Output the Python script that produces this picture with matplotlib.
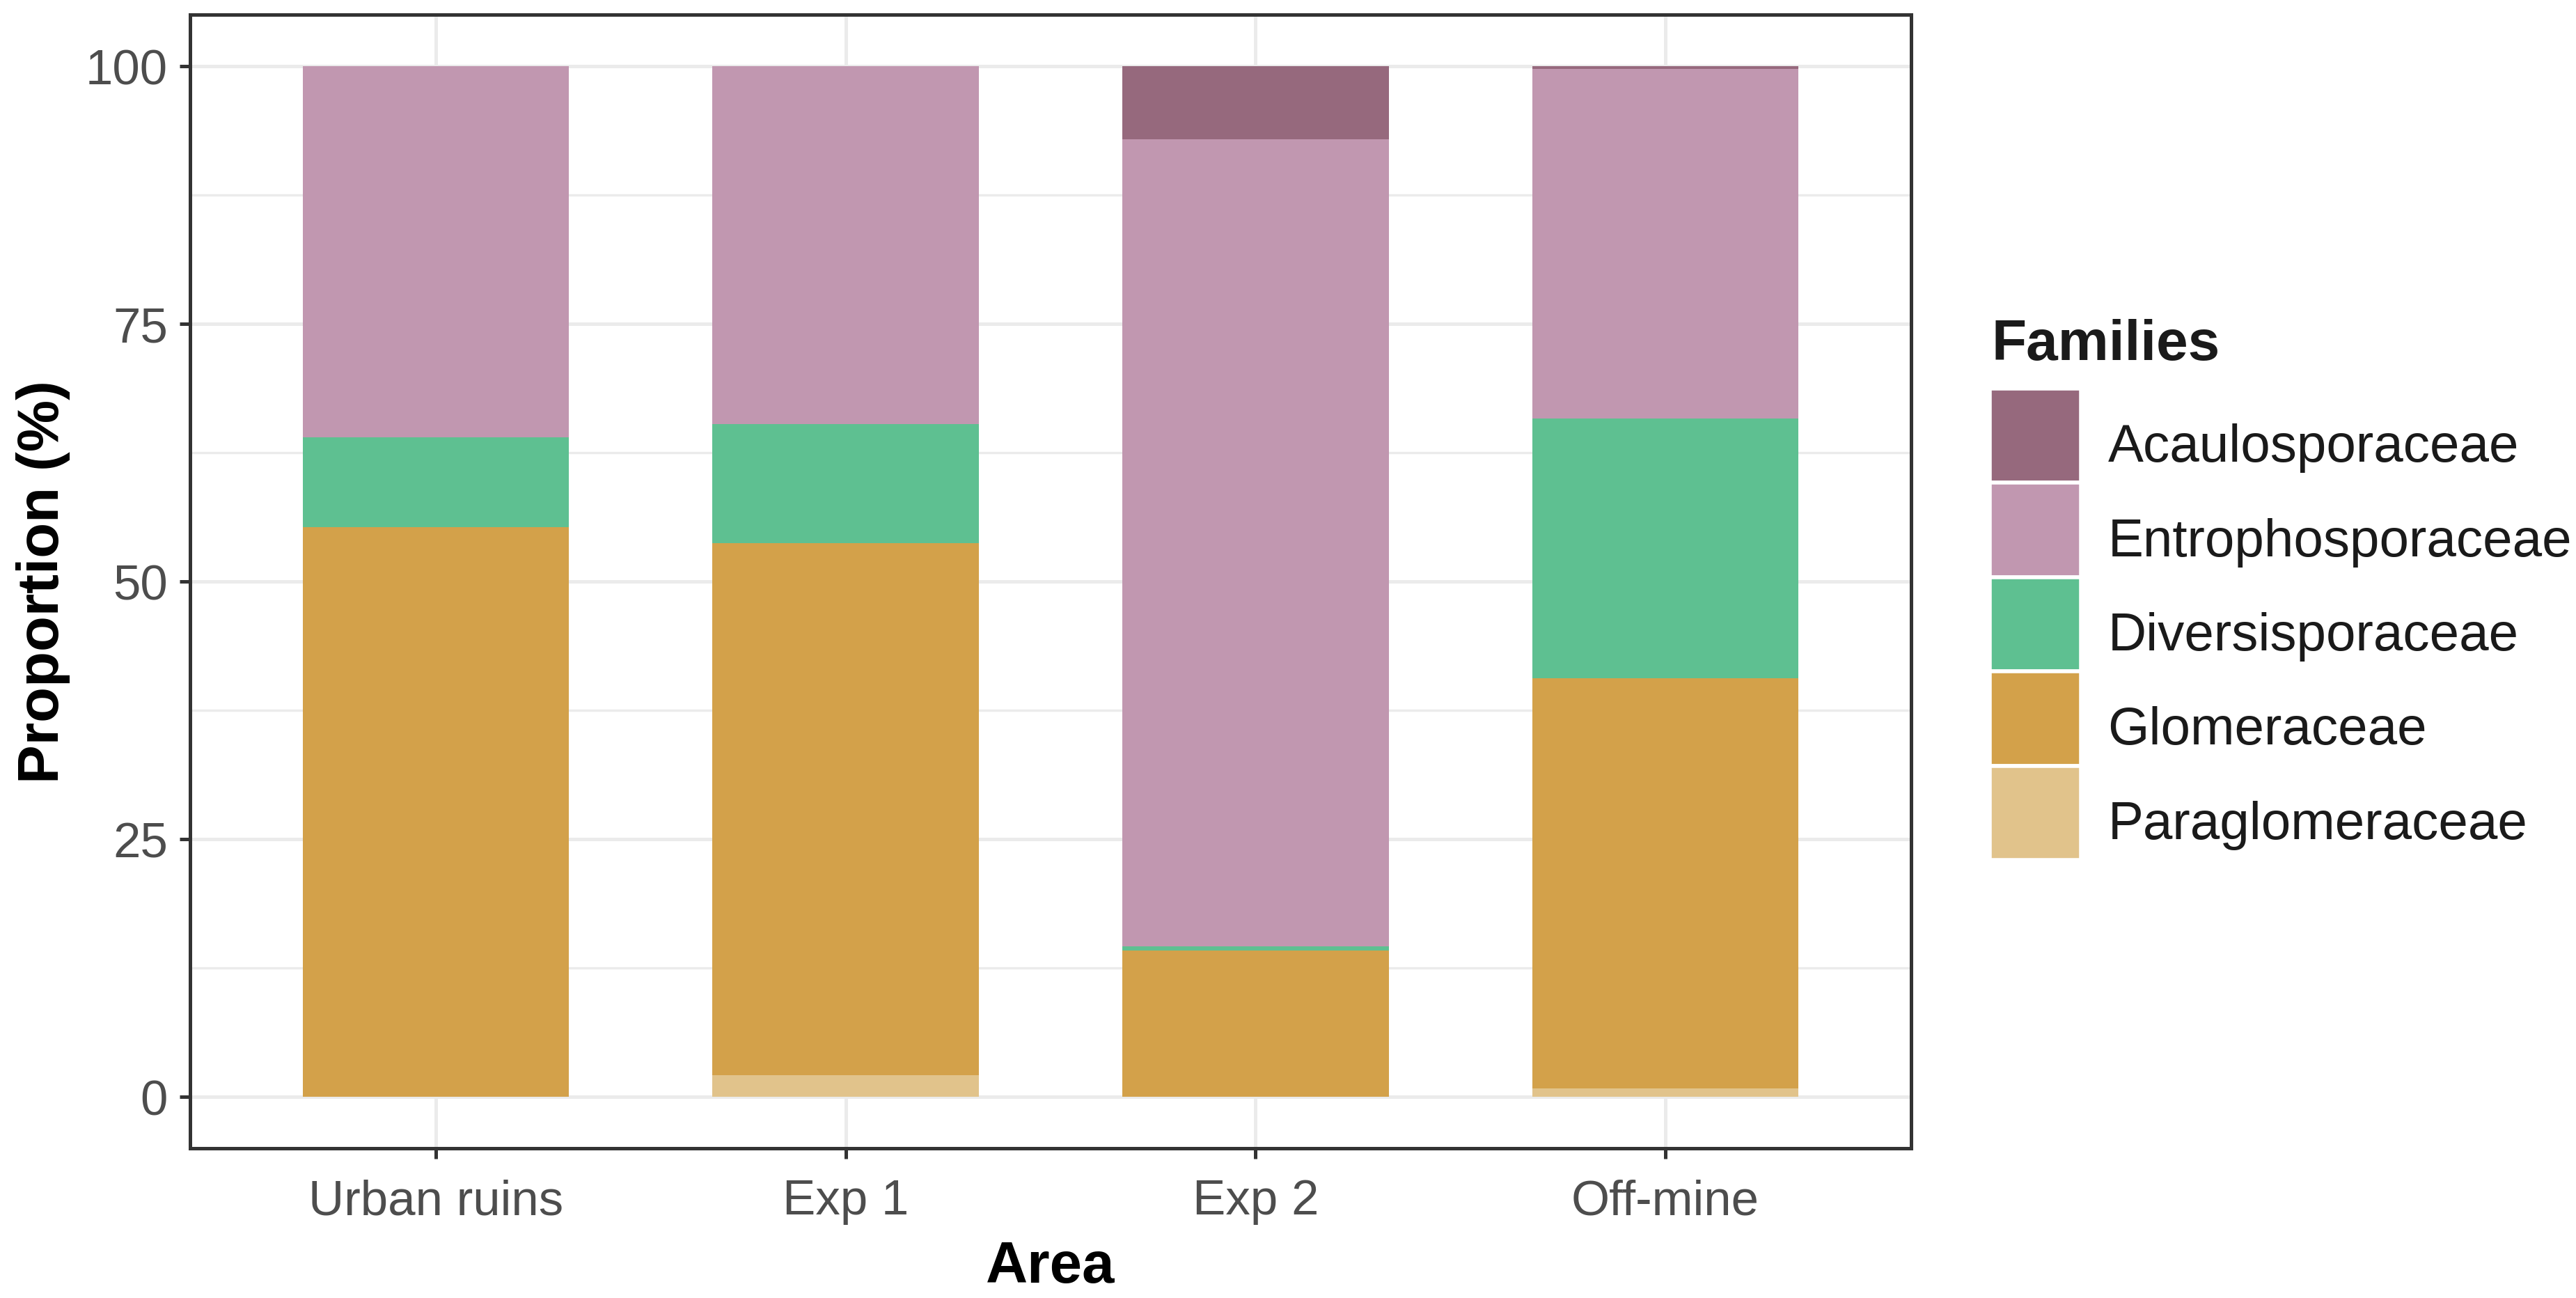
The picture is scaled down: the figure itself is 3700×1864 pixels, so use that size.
import numpy as np
import matplotlib
matplotlib.use("Agg")
import matplotlib.pyplot as plt
from matplotlib.patches import Patch, Rectangle
from matplotlib.legend_handler import HandlerPatch
from matplotlib.ticker import MultipleLocator

plt.rcParams["font.family"] = ["Liberation Sans", "DejaVu Sans"]

# data (proportion %)
areas = ["Urban ruins", "Exp 1", "Exp 2", "Off-mine"]
families = ["Acaulosporaceae", "Entrophosporaceae", "Diversisporaceae",
            "Glomeraceae", "Paraglomeraceae"]
paraglomeraceae = [0.0, 2.1, 0.0, 0.8]
glomeraceae = [55.3, 51.6, 14.2, 39.8]
diversisporaceae = [8.7, 11.6, 0.4, 25.2]
entrophosporaceae = [36.0, 34.7, 78.3, 33.9]
acaulosporaceae = [0.0, 0.0, 7.1, 0.3]

colors = {
    "Acaulosporaceae": "#96697D",
    "Entrophosporaceae": "#C197B0",
    "Diversisporaceae": "#5EC091",
    "Glomeraceae": "#D3A14A",
    "Paraglomeraceae": "#E1C38B",
}

# stacking from the bottom up
stack = [
    ("Paraglomeraceae", paraglomeraceae),
    ("Glomeraceae", glomeraceae),
    ("Diversisporaceae", diversisporaceae),
    ("Entrophosporaceae", entrophosporaceae),
    ("Acaulosporaceae", acaulosporaceae),
]

W, H, DPI = 3700, 1865, 100
fig = plt.figure(figsize=(W / DPI, H / DPI), dpi=DPI)
ax = fig.add_axes([273 / W, 1 - 1650 / H, (2745 - 273) / W, (1650 - 22) / H])

x = np.arange(len(areas))
bottom = np.zeros(len(areas))
for name, vals in stack:
    vals = np.array(vals)
    ax.bar(x, vals, width=0.65, bottom=bottom, color=colors[name],
           linewidth=0, zorder=2)
    bottom += vals

ax.set_xlim(-0.6, len(areas) - 0.4)
ax.set_ylim(-5, 105)
ax.set_xticks(x)
ax.set_xticklabels(areas)
ax.yaxis.set_major_locator(MultipleLocator(25))
ax.yaxis.set_minor_locator(MultipleLocator(12.5))
ax.set_yticks([0, 25, 50, 75, 100])

grid_c = "#EBEBEB"
ax.grid(which="major", color=grid_c, linewidth=3.6, zorder=0)
ax.grid(which="minor", axis="y", color=grid_c, linewidth=2.4, zorder=0)
ax.set_axisbelow(True)

for s in ax.spines.values():
    s.set_color("#333333")
    s.set_linewidth(3.6)

ax.tick_params(axis="both", which="major", length=11, width=3.6,
               color="#333333", labelsize=51, labelcolor="#4D4D4D")
ax.tick_params(axis="x", pad=20)
ax.tick_params(axis="y", pad=12)
ax.tick_params(which="minor", length=0)

ax.set_xlabel("Area", fontsize=60, fontweight="bold", labelpad=16)
ax.set_ylabel("Proportion (%)", fontsize=60, fontweight="bold", labelpad=16)

# legend: title as its own text, keys slightly raised like ggplot
fig.text(2861 / W, 1 - 517 / H, "Families", fontsize=59, fontweight="bold",
         color="#1A1A1A", ha="left", va="baseline")


def raised_key(legend, orig_handle, xdescent, ydescent, width, height, fontsize):
    return Rectangle((-xdescent, -ydescent + 9.4), width, height)


handles = [Patch(facecolor=colors[f], edgecolor="white", linewidth=4)
           for f in families]
leg = fig.legend(handles, families, loc="upper left",
                 bbox_to_anchor=(2858 / W, 1 - 572 / H), frameon=False,
                 fontsize=55, handlelength=1.72, handleheight=2.35,
                 labelspacing=0, handletextpad=0.5, borderpad=0,
                 borderaxespad=0,
                 handler_map={Patch: HandlerPatch(patch_func=raised_key)})
for t in leg.get_texts():
    t.set_color("#1A1A1A")

fig.savefig("out.png", dpi=DPI)
